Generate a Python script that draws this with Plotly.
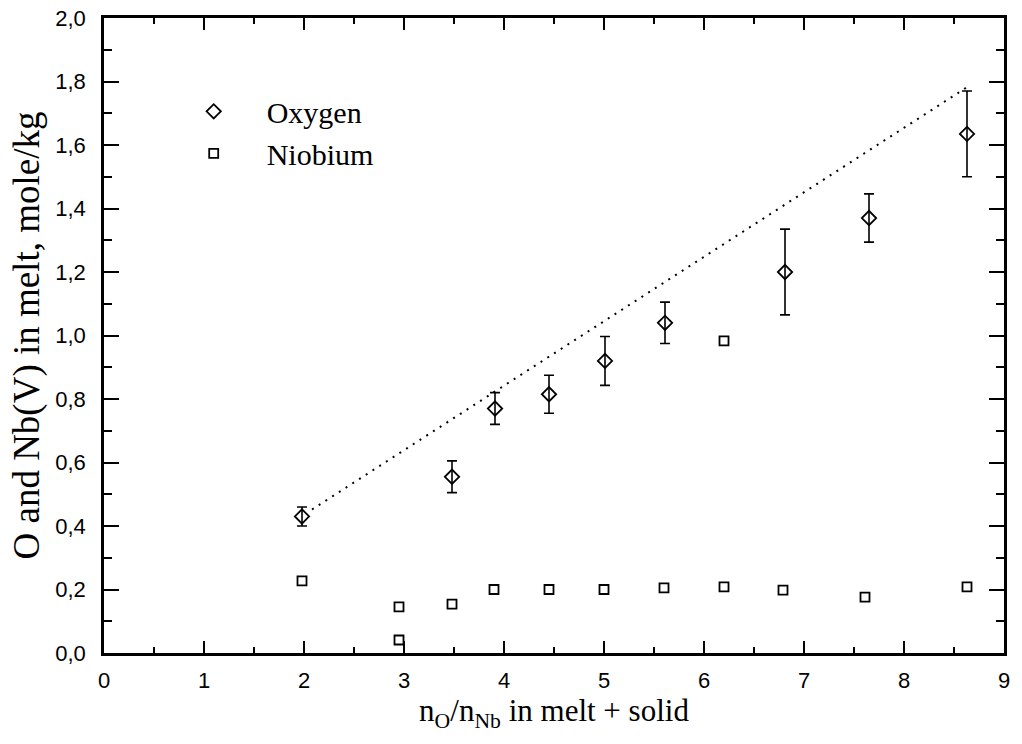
import plotly.graph_objects as go

# Oxygen data
ox_x = [1.98, 3.48, 3.91, 4.45, 5.01, 5.61, 6.81, 7.65, 8.63]
ox_y = [0.43, 0.555, 0.77, 0.815, 0.92, 1.04, 1.20, 1.37, 1.635]
ox_err = [0.03, 0.05, 0.05, 0.06, 0.077, 0.065, 0.135, 0.076, 0.135]

# Niobium data
nb_x = [1.98, 2.95, 2.95, 3.48, 3.90, 4.45, 5.00, 5.60, 6.20, 6.20, 6.79, 7.61, 8.63]
nb_y = [0.227, 0.041, 0.145, 0.154, 0.20, 0.20, 0.20, 0.205, 0.208, 0.983, 0.198, 0.176, 0.208]

# Dotted reference line
line_x = [2.08, 8.62]
line_y = [0.452, 1.78]

SERIF = "Liberation Serif"
SANS = "Liberation Sans"

fig = go.Figure()
fig.add_trace(go.Scatter(
    x=line_x, y=line_y, mode="lines",
    line=dict(color="black", width=2, dash="2px,6px"),
    showlegend=False, hoverinfo="skip"))
fig.add_trace(go.Scatter(
    x=ox_x, y=ox_y, mode="markers", name="Oxygen",
    marker=dict(symbol="diamond-open", size=11, color="black", line=dict(width=1.8)),
    error_y=dict(type="data", array=ox_err, visible=True, color="black", thickness=1.6, width=5)))
fig.add_trace(go.Scatter(
    x=nb_x, y=nb_y, mode="markers", name="Niobium",
    marker=dict(symbol="square-open", size=9, color="black", line=dict(width=1.8))))

axis_common = dict(
    showline=True, linecolor="black", linewidth=2.5, mirror="ticks",
    ticks="inside", tickcolor="black", tickwidth=2, automargin=False,
    ticklabeloverflow="allow",
    showgrid=False, zeroline=False,
    tickfont=dict(family=SANS, size=22, color="black"),
)

fig.update_xaxes(
    range=[0, 9], dtick=1, tick0=0, ticklen=12, ticklabelstandoff=6,
    minor=dict(ticks="inside", dtick=0.5, ticklen=6, tickwidth=1.5, tickcolor="black"),
    title=dict(text="n<sub>O</sub>/n<sub>Nb</sub> in melt + solid",
               font=dict(family=SERIF, size=31, color="black"),
               standoff=6),
    **axis_common)
fig.update_yaxes(
    range=[0, 2.0], dtick=0.2, tick0=0, tickformat=".1f", ticklen=15, ticklabelstandoff=11,
    minor=dict(ticks="inside", dtick=0.1, ticklen=8, tickwidth=1.5, tickcolor="black"),
    title=dict(text="O and Nb(V) in melt, mole/kg",
               font=dict(family=SERIF, size=37, color="black"),
               standoff=5),
    **axis_common)

fig.update_layout(
    width=1022, height=744,
    margin=dict(l=104, r=18, t=18, b=91, autoexpand=False),
    paper_bgcolor="white", plot_bgcolor="white",
    separators=",.",
    showlegend=True,
    hovermode=False,
    legend=dict(x=0.063, y=0.894, xanchor="left", yanchor="top",
                font=dict(family=SERIF, size=30, color="black"),
                bgcolor="rgba(0,0,0,0)", itemwidth=96, tracegroupgap=0),
)

fig.write_html("out.html", config={"displayModeBar": False},
               post_script="document.body.style.margin='0';")
